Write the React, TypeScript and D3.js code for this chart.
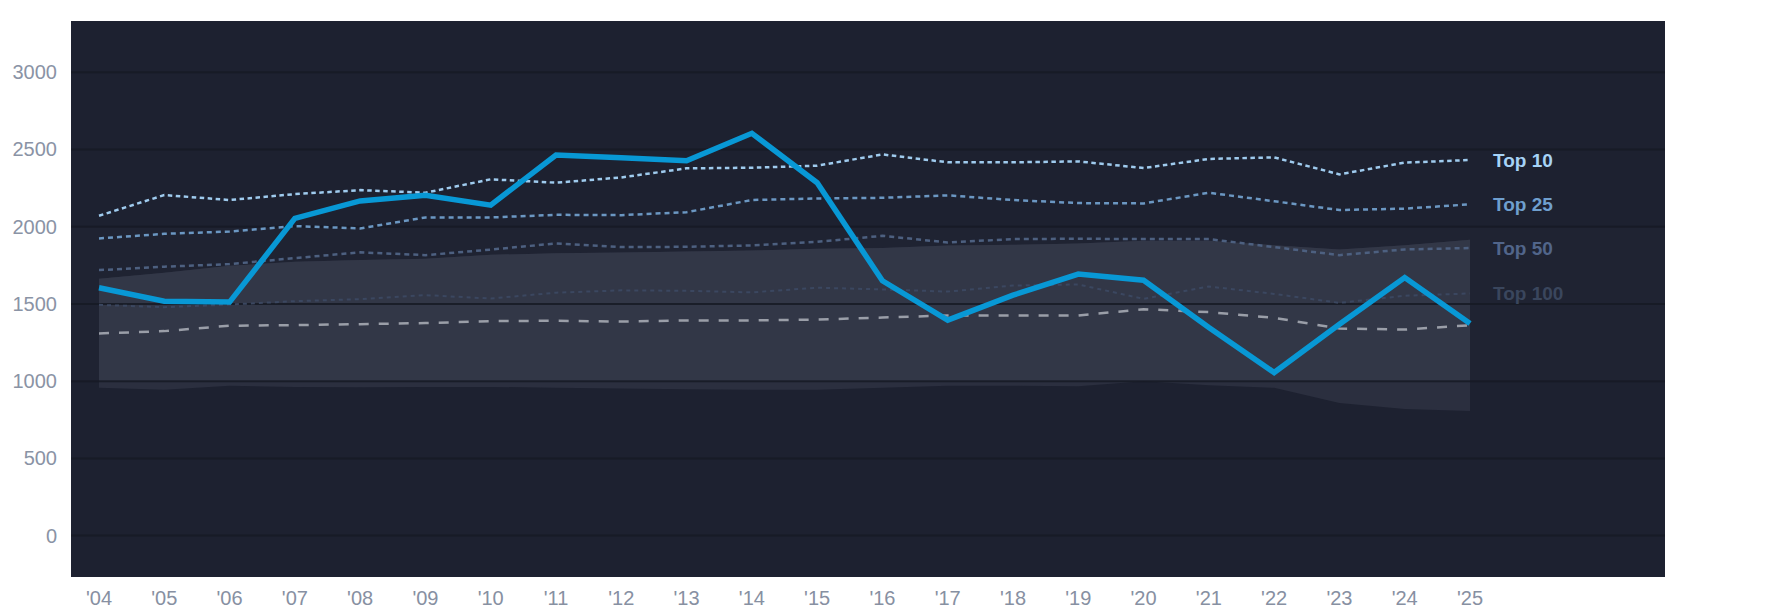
import { useRef, useEffect } from 'react';
import * as d3 from 'd3';

const years = ["'04", "'05", "'06", "'07", "'08", "'09", "'10", "'11", "'12", "'13", "'14", "'15", "'16", "'17", "'18", "'19", "'20", "'21", "'22", "'23", "'24", "'25"];

const mainValues = [1605, 1518, 1512, 2054, 2167, 2203, 2140, 2464, 2447, 2427, 2605, 2285, 1650, 1395, 1557, 1693, 1654, 1347, 1056, 1369, 1671, 1374];
const top10 = [2071, 2205, 2173, 2211, 2237, 2220, 2307, 2285, 2319, 2378, 2382, 2395, 2468, 2417, 2417, 2423, 2380, 2439, 2449, 2339, 2415, 2432];
const top25 = [1924, 1954, 1969, 2004, 1989, 2060, 2060, 2077, 2075, 2094, 2173, 2183, 2187, 2203, 2173, 2153, 2151, 2220, 2165, 2108, 2117, 2145];
const top50 = [1719, 1741, 1758, 1797, 1834, 1816, 1852, 1892, 1868, 1870, 1879, 1902, 1941, 1898, 1920, 1922, 1920, 1920, 1868, 1816, 1853, 1862];
const top100 = [1494, 1479, 1496, 1518, 1531, 1557, 1535, 1573, 1588, 1585, 1575, 1605, 1594, 1580, 1619, 1626, 1533, 1613, 1565, 1507, 1553, 1568];
const median = [1309, 1324, 1359, 1363, 1369, 1376, 1389, 1391, 1386, 1393, 1393, 1399, 1412, 1425, 1425, 1425, 1466, 1447, 1410, 1341, 1334, 1362];
const rangeHigh = [1663, 1702, 1747, 1773, 1784, 1792, 1818, 1829, 1833, 1840, 1846, 1857, 1863, 1879, 1883, 1892, 1909, 1909, 1880, 1852, 1880, 1916];
const rangeLow = [957, 944, 970, 963, 961, 963, 963, 957, 952, 948, 944, 944, 957, 970, 970, 967, 1000, 974, 957, 859, 820, 807];

const yTicks = [0, 500, 1000, 1500, 2000, 2500, 3000];

const refLines = [
  { name: 'Top 10', values: top10, stroke: '#9fcbee', label: '#a6d3f7', dash: '4.5,3.5', width: 2.5 },
  { name: 'Top 25', values: top25, stroke: '#6b97c2', label: '#6f9fce', dash: '5,4', width: 2.5 },
  { name: 'Top 50', values: top50, stroke: '#4d6080', label: '#51658a', dash: '5,4', width: 2.5 },
  { name: 'Top 100', values: top100, stroke: '#3b4760', label: '#3a465d', dash: '4,4', width: 2 },
];

const FONT = "'Liberation Sans', Arial, sans-serif";

export default function App() {
  const svgRef = useRef<SVGSVGElement>(null);

  useEffect(() => {
    if (!svgRef.current) return;
    const svg = d3.select(svgRef.current);
    svg.selectAll('*').remove();

    const width = 1785;
    const height = 614;
    const plot = { left: 71, right: 1665, top: 21, bottom: 577 };

    svg.attr('width', width).attr('height', height);

    const x = d3.scaleLinear().domain([0, years.length - 1]).range([99, 1470]);
    const y = d3.scaleLinear().domain([-268, 3332]).range([plot.bottom, plot.top]);

    // Plot background
    svg.append('rect')
      .attr('x', plot.left)
      .attr('y', plot.top)
      .attr('width', plot.right - plot.left)
      .attr('height', plot.bottom - plot.top)
      .attr('fill', '#1d2130');

    // Subtle band between 1000 and 2000
    svg.append('rect')
      .attr('x', plot.left)
      .attr('y', y(2000))
      .attr('width', plot.right - plot.left)
      .attr('height', y(1000) - y(2000))
      .attr('fill', '#1f2332');

    const defs = svg.append('defs');
    defs.append('clipPath')
      .attr('id', 'band-clip')
      .append('rect')
      .attr('x', plot.left)
      .attr('y', y(2000))
      .attr('width', plot.right - plot.left)
      .attr('height', y(1000) - y(2000));

    // Range area
    const area = d3.area<number>()
      .x((_, i) => x(i))
      .y0((_, i) => y(rangeLow[i]))
      .y1((d) => y(d));

    svg.append('path')
      .datum(rangeHigh)
      .attr('d', area)
      .attr('fill', '#2b2f3f');

    svg.append('path')
      .datum(rangeHigh)
      .attr('d', area)
      .attr('fill', '#323747')
      .attr('clip-path', 'url(#band-clip)');

    // Grid lines
    svg.append('g')
      .selectAll('line')
      .data(yTicks)
      .join('line')
      .attr('x1', plot.left)
      .attr('x2', plot.right)
      .attr('y1', (d) => y(d))
      .attr('y2', (d) => y(d))
      .attr('stroke', '#161a24')
      .attr('stroke-opacity', 0.85)
      .attr('stroke-width', 2);

    // Y-axis labels
    svg.append('g')
      .selectAll('text')
      .data(yTicks)
      .join('text')
      .attr('x', 57)
      .attr('y', (d) => y(d))
      .attr('text-anchor', 'end')
      .attr('dominant-baseline', 'central')
      .attr('font-family', FONT)
      .attr('font-size', 20)
      .attr('fill', '#8a93a5')
      .text((d) => d);

    // X-axis labels
    svg.append('g')
      .selectAll('text')
      .data(years)
      .join('text')
      .attr('x', (_, i) => x(i))
      .attr('y', 598)
      .attr('text-anchor', 'middle')
      .attr('dominant-baseline', 'central')
      .attr('font-family', FONT)
      .attr('font-size', 20)
      .attr('fill', '#8790a2')
      .text((d) => d);

    const line = d3.line<number>()
      .x((_, i) => x(i))
      .y((d) => y(d));

    // Reference lines (top N)
    [...refLines].reverse().forEach((s) => {
      svg.append('path')
        .datum(s.values)
        .attr('d', line)
        .attr('fill', 'none')
        .attr('stroke', s.stroke)
        .attr('stroke-width', s.width)
        .attr('stroke-dasharray', s.dash);
    });

    // Median line
    svg.append('path')
      .datum(median)
      .attr('d', line)
      .attr('fill', 'none')
      .attr('stroke', '#9a9ea8')
      .attr('stroke-width', 2.5)
      .attr('stroke-dasharray', '10,10');

    // Main series
    svg.append('path')
      .datum(mainValues)
      .attr('d', line)
      .attr('fill', 'none')
      .attr('stroke', '#0898d5')
      .attr('stroke-width', 5.5)
      .attr('stroke-linejoin', 'miter');

    // End labels
    svg.append('g')
      .selectAll('text')
      .data(refLines)
      .join('text')
      .attr('x', 1493)
      .attr('y', (d) => y(d.values[d.values.length - 1]))
      .attr('dominant-baseline', 'central')
      .attr('font-family', FONT)
      .attr('font-size', 19)
      .attr('font-weight', 'bold')
      .attr('fill', (d) => d.label)
      .text((d) => d.name);
  }, []);

  return (
    <div style={{ position: 'absolute', left: 0, top: 0 }}>
      <svg ref={svgRef} style={{ display: 'block' }} />
    </div>
  );
}
